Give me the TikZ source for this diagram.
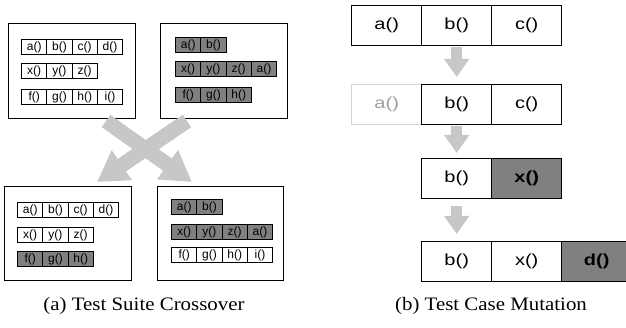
\documentclass[tikz,border=0pt]{standalone}
\usepackage{fontspec}
\setmainfont{Liberation Serif}
\newfontfamily\smallcellfont{Liberation Sans}
\newfontfamily\bigcellfont[FakeStretch=1.25]{Liberation Sans}
\newfontfamily\capfont[FakeStretch=1.1]{Liberation Serif}
\usetikzlibrary{arrows.meta}
\definecolor{darkcell}{gray}{0.5}
\definecolor{arrowgray}{gray}{0.78}
\definecolor{fadeline}{gray}{0.83}
\definecolor{fadetext}{gray}{0.62}
\tikzset{
  suitebox/.style={draw, line width=1.4pt, fill=white, anchor=north west, inner sep=0pt},
  scell/.style={draw, line width=1.2pt, fill=white, minimum width=25.25pt, minimum height=15pt,
    inner sep=0pt, anchor=north west, font=\smallcellfont\fontsize{12}{12}\selectfont},
  sdark/.style={scell, fill=darkcell},
  bcell/.style={draw, line width=1.4pt, fill=white, minimum width=70pt, minimum height=40pt,
    inner sep=0pt, anchor=north west, font=\bigcellfont\fontsize{16}{16}\selectfont},
  bdark/.style={bcell, fill=darkcell, font=\bigcellfont\bfseries\fontsize{16}{16}\selectfont},
  bfade/.style={bcell, draw=fadeline, text=fadetext},
  xarrow/.style={draw=arrowgray, line width=15pt, -{Triangle[width=34pt,length=30pt]}},
  marrow/.style={draw=arrowgray, line width=11pt, -{Triangle[width=24pt,length=18pt]}},
  captext/.style={font=\capfont\fontsize{19}{19}\selectfont, anchor=base, inner sep=0pt}
}
\begin{document}
\begin{tikzpicture}[x=1pt,y=-1pt]
\useasboundingbox (0,0) rectangle (626,328);
\clip (0,0) rectangle (626,328);
\fill[white] (0,0) rectangle (626,328);

% ---- (a) Test Suite Crossover ----
\node[suitebox, minimum width=127pt, minimum height=95pt] (tl) at (8,23) {};
\node[suitebox, minimum width=127pt, minimum height=95pt] (tr) at (160,23) {};
\node[suitebox, minimum width=127pt, minimum height=94pt] (bl) at (4,186) {};
\node[suitebox, minimum width=126pt, minimum height=94pt] (br) at (157,186) {};

% top-left suite
\foreach \t [count=\i from 0] in {a(),b(),c(),d()}
  \node[scell] (tla\i) at (21+\i*25.25,39) {\t};
\foreach \t [count=\i from 0] in {x(),y(),z()}
  \node[scell] (tlb\i) at (21+\i*25.25,63) {\t};
\foreach \t [count=\i from 0] in {f(),g(),h(),i()}
  \node[scell] (tlc\i) at (21+\i*25.25,89) {\t};

% top-right suite
\foreach \t [count=\i from 0] in {a(),b()}
  \node[sdark] (tra\i) at (175+\i*25.25,37) {\t};
\foreach \t [count=\i from 0] in {x(),y(),z(),a()}
  \node[sdark] (trb\i) at (175+\i*25.25,61) {\t};
\foreach \t [count=\i from 0] in {f(),g(),h()}
  \node[sdark] (trc\i) at (175+\i*25.25,87) {\t};

% bottom-left suite
\foreach \t [count=\i from 0] in {a(),b(),c(),d()}
  \node[scell] (bla\i) at (17+\i*25.25,202) {\t};
\foreach \t [count=\i from 0] in {x(),y(),z()}
  \node[scell] (blb\i) at (17+\i*25.25,227) {\t};
\foreach \t [count=\i from 0] in {f(),g(),h()}
  \node[sdark] (blc\i) at (17+\i*25.25,251) {\t};

% bottom-right suite
\foreach \t [count=\i from 0] in {a(),b()}
  \node[sdark] (bra\i) at (171+\i*25.25,199) {\t};
\foreach \t [count=\i from 0] in {x(),y(),z(),a()}
  \node[sdark] (brb\i) at (171+\i*25.25,224) {\t};
\foreach \t [count=\i from 0] in {f(),g(),h(),i()}
  \node[scell] (brc\i) at (171+\i*25.25,247) {\t};

% crossover arrows
\coordinate (xs1) at (106,121);
\coordinate (xe1) at (192,182);
\coordinate (xs2) at (187,121);
\coordinate (xe2) at (97,182);
\draw[xarrow] (xs1) -- (xe1);
\draw[xarrow] (xs2) -- (xe2);

\node[captext] (capa) at (144,311) {(a) Test Suite Crossover};

% ---- (b) Test Case Mutation ----
\node[bcell] (r1a) at (351,5) {a()};
\node[bcell] (r1b) at (421,5) {b()};
\node[bcell] (r1c) at (491,5) {c()};

\node[bfade] (r2a) at (351,84) {a()};
\node[bcell] (r2b) at (421,84) {b()};
\node[bcell] (r2c) at (491,84) {c()};

\node[bcell] (r3b) at (421,158) {b()};
\node[bdark] (r3x) at (491,158) {x()};

\node[bcell] (r4b) at (421,241) {b()};
\node[bcell] (r4x) at (491,241) {x()};
\node[bdark] (r4d) at (561,241) {d()};

\draw[marrow, shorten <=1pt, shorten >=7pt] (r1b.south) -- (r2b.north);
\draw[marrow, shorten <=1pt, shorten >=5pt] (r2b.south) -- (r3b.north);
\draw[marrow, shorten <=7pt, shorten >=7pt] (r3b.south) -- (r4b.north);

\node[captext] (capb) at (491,311) {(b) Test Case Mutation};
\end{tikzpicture}
\end{document}
